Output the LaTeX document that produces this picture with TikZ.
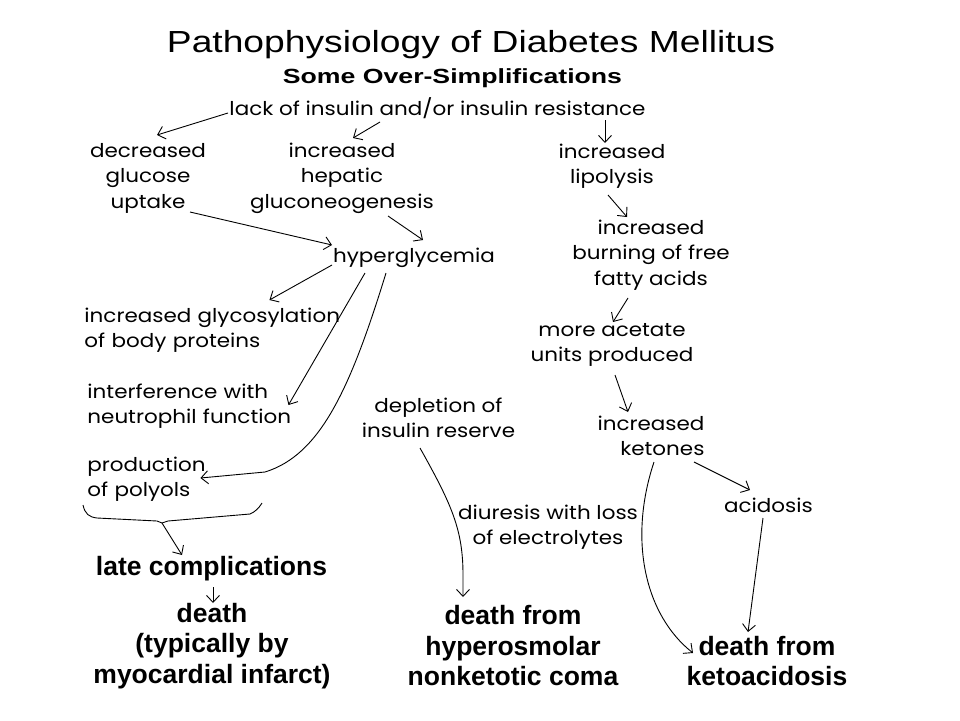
\documentclass[tikz,border=0pt]{standalone}
\usepackage{fontspec}
\setmainfont{Poppins}[FakeStretch=1.13]
\newfontfamily\titlefont{Liberation Sans}[FakeStretch=1.22]
\newfontfamily\headfont{Liberation Sans}[FakeStretch=1.3]
\newfontfamily\deathfont{Liberation Sans}
\usetikzlibrary{arrows.meta}

\begin{document}
\begin{tikzpicture}[
    x=1pt, y=-1pt,
    >={Straight Barb[length=7pt,width=13pt]},
    line width=0.9pt,
    box/.style={inner sep=0pt, align=center, font=\fontsize{19}{25.5}\selectfont},
    leftbox/.style={box, anchor=west, align=left},
    endbox/.style={inner sep=0pt, align=center, font=\deathfont\bfseries\fontsize{26.5}{30.5}\selectfont}
]
\useasboundingbox[fill=white] (0,0) rectangle (960,720);

% title
\node[anchor=base, inner sep=0pt, font=\titlefont\fontsize{30.5}{36}\selectfont] (title) at (471,52) {Pathophysiology of Diabetes Mellitus};
\node[anchor=base, inner sep=0pt, font=\headfont\bfseries\fontsize{20.5}{24}\selectfont] (subtitle) at (452.5,83) {Some Over-Simplifications};

% cause
\node[box, anchor=base] (lack) at (437.5,115) {lack of insulin and/or insulin resistance};

% glucose branch
\node[box] (decr) at (148,178) {decreased\\glucose\\uptake};
\node[box] (hep) at (342,178) {increased\\hepatic\\gluconeogenesis};
\node[box, anchor=base] (hyper) at (414,262) {hyperglycemia};
\node[leftbox, text width=260pt] (glyco) at (84,330) {increased glycosylation\\of body proteins};
\node[leftbox, text width=215pt] (neutro) at (87,406) {interference with\\neutrophil function};
\node[leftbox, text width=125pt] (polyol) at (87,479) {production\\of polyols};

% fat branch
\node[box] (lipo) at (612,166) {increased\\lipolysis};
\node[box] (burn) at (651,255) {increased\\burning of free\\fatty acids};
\node[box] (acet) at (612,345) {more acetate\\units produced};
\node[box, align=right] (keto) at (651,436) {increased\\ketones};
\node[box, anchor=base] (acid) at (768.5,512) {acidosis};

% insulin reserve
\node[box] (deplete) at (438.5,418) {depletion of\\insulin reserve};
\node[box] (diur) at (548,527) {diuresis with loss\\of electrolytes};

% outcomes
\node[endbox, anchor=base] (late) at (211.5,575) {late complications};
\node[endbox] (death) at (212,646) {death\\(typically by\\myocardial infarct)};
\node[endbox] (osmo) at (513,646) {death from\\hyperosmolar\\nonketotic coma};
\node[endbox] (ketoacid) at (767,661) {death from\\ketoacidosis};

% arrows from the cause
\draw[->] ([shift={(-209.5,-2)}]lack.base) -- ([shift={(9,-43)}]decr.center);
\draw[->] ([shift={(-57.5,7)}]lack.base) -- ([shift={(11,-40)}]hep.center);
\draw[->] ([shift={(167.5,5)}]lack.base) -- ([shift={(-7,-23)}]lipo.center);

% glucose arrows
\draw[->] ([shift={(42,34)}]decr.center) -- ([shift={(-82,-17)}]hyper.base);
\draw[->] ([shift={(46,38)}]hep.center) -- ([shift={(9,-22)}]hyper.base);
\draw[->] ([shift={(-82,3)}]hyper.base) -- ([shift={(55,-30)}]glyco.center);
\draw[->] ([shift={(-49,11)}]hyper.base) -- ([shift={(93.5,-1)}]neutro.center);
\draw[->] ([shift={(-28,11)}]hyper.base) .. controls (350,390) and (320,455) .. (265,472) -- ([shift={(50.5,-1)}]polyol.center);

% brace over the three effects
\coordinate (tip) at (162,523);
\draw (83,505) .. controls (85,514) and (89,517) .. (97,518) -- (157,521) -- (tip) -- (168,521) -- (250,514) .. controls (255,512) and (259,508) .. (262,503);
\draw[->] (tip) -- ([shift={(-29.5,-20)}]late.base);
\draw[->] ([shift={(1.5,12)}]late.base) -- ([shift={(1,-43)}]death.center);

% fat arrows
\draw[->] ([shift={(-4,29)}]lipo.center) -- ([shift={(-24,-38)}]burn.center);
\draw[->] ([shift={(-23,43)}]burn.center) -- ([shift={(1,-23)}]acet.center);
\draw[->] ([shift={(3,30)}]acet.center) -- ([shift={(-23,-24)}]keto.center);
\draw[->] ([shift={(43,26)}]keto.center) -- ([shift={(-18.5,-22)}]acid.base);
\draw[->] ([shift={(-5.5,6)}]acid.base) -- ([shift={(-19,-29)}]ketoacid.center);
\draw[->] ([shift={(3,26)}]keto.center) .. controls (628,540) and (645,615) .. ([shift={(-74,-8)}]ketoacid.center);

% reserve arrow
\draw[->] ([shift={(-18.5,30)}]deplete.center) .. controls (452,505) and (463,530) .. (463,575) -- ([shift={(-50,-49)}]osmo.center);

\end{tikzpicture}
\end{document}
